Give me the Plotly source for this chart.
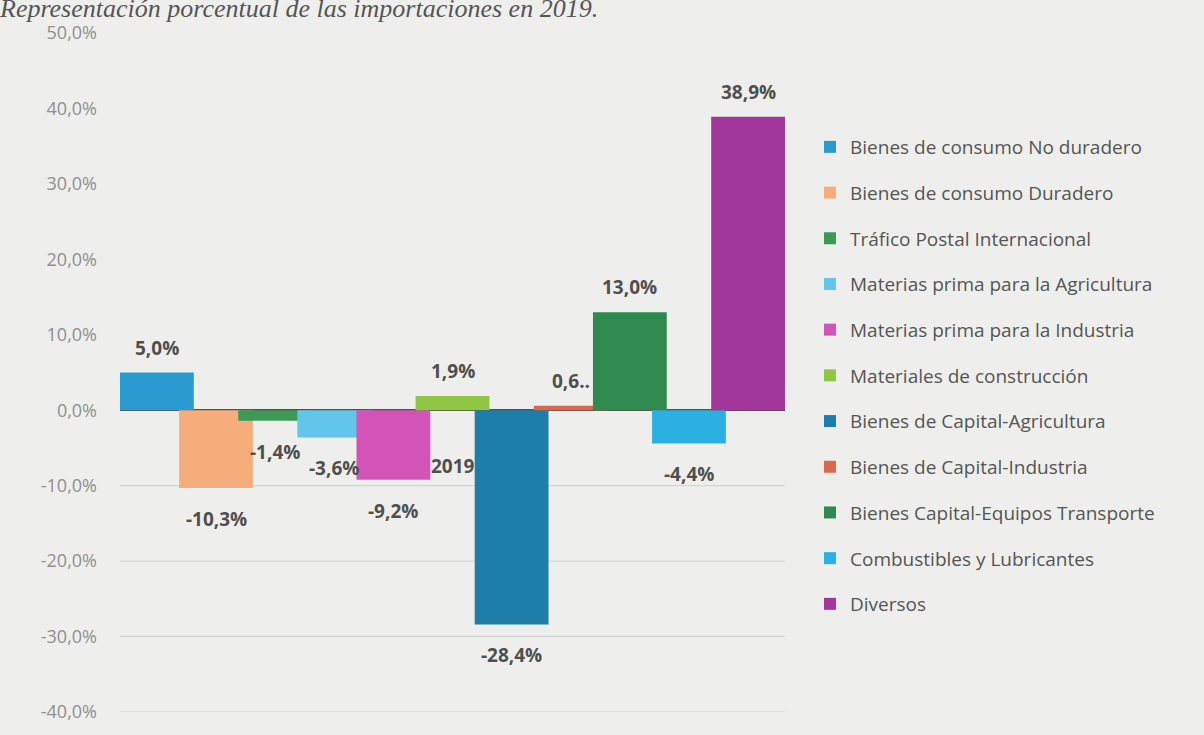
import plotly.graph_objects as go

categories = [
    "Bienes de consumo No duradero",
    "Bienes de consumo Duradero",
    "Tráfico Postal Internacional",
    "Materias prima para la Agricultura",
    "Materias prima para la Industria",
    "Materiales de construcción",
    "Bienes de Capital-Agricultura",
    "Bienes de Capital-Industria",
    "Bienes Capital-Equipos Transporte",
    "Combustibles y Lubricantes",
    "Diversos",
]
values = [5.0, -10.3, -1.4, -3.6, -9.2, 1.9, -28.4, 0.6, 13.0, -4.4, 38.9]
labels = ["5,0%", "-10,3%", "-1,4%", "-3,6%", "-9,2%", "1,9%", "-28,4%", "0,6..", "13,0%", "-4,4%", "38,9%"]
colors = ["#2a9bd0", "#f6ad7c", "#3c9a57", "#62c6ea", "#d354b6", "#8fc744",
          "#1c7ea9", "#d9694c", "#2f8a50", "#2bb0e2", "#a2369c"]
year = "2019"
tick_vals = [50, 40, 30, 20, 10, 0, -10, -20, -30, -40]
tick_text = ["50,0%", "40,0%", "30,0%", "20,0%", "10,0%", "0,0%", "-10,0%", "-20,0%", "-30,0%", "-40,0%"]

W, H = 1204, 735
ML, MR, MT, MB = 120, 419, 33, 17
PW = W - ML - MR

BAR_W = 0.111
STEP = (1 - BAR_W) / (len(values) - 1)
FONT = "Open Sans"
BG = "#eeefec"

fig = go.Figure()
for i, (name, v, c) in enumerate(zip(categories, values, colors)):
    fig.add_trace(go.Bar(
        x=[0], y=[v], name=name, marker=dict(color=c, line=dict(width=0)),
        offset=-0.5 + i * STEP, width=BAR_W, legendgroup=f"g{i}",
        hoverinfo="name+y",
    ))
    fig.add_annotation(
        x=-0.5 + i * STEP + BAR_W / 2, y=v, text=f"<b>{labels[i]}</b>",
        showarrow=False, xref="x", yref="y", yanchor="middle",
        yshift=25 if v >= 0 else -31,
        font=dict(family=FONT, size=19, color="#4f4f4f"),
    )

fig.add_annotation(x=0, y=0, text=f"<b>{year}</b>", showarrow=False, xref="x", yref="y",
                   yanchor="middle", yshift=-56,
                   font=dict(family=FONT, size=19, color="#4f4f4f"))

fig.add_annotation(x=-ML / PW, y=1, xref="paper", yref="paper", xanchor="left", yanchor="middle",
                   yshift=MT - 8, xshift=-3,
                   text="<i>Representación porcentual de las importaciones en 2019.</i>",
                   showarrow=False,
                   font=dict(family="Liberation Serif", size=26, color="#555555"))

# gridlines (only the negative ones are visible in the reference)
for tv in tick_vals:
    if tv < 0:
        fig.add_shape(type="line", xref="paper", yref="y", x0=0, x1=1, y0=tv, y1=tv,
                      line=dict(color="#cfd0ce", width=1), layer="below")

fig.update_layout(
    width=W, height=H,
    barmode="overlay",
    paper_bgcolor=BG, plot_bgcolor=BG,
    margin=dict(l=ML, r=MR, t=MT, b=MB),
    xaxis=dict(range=[-0.5, 0.5], showticklabels=False, showgrid=False, zeroline=False,
               showline=False, fixedrange=True),
    yaxis=dict(range=[-40, 50], tickvals=tick_vals, ticktext=tick_text,
               showgrid=False,
               zeroline=True, zerolinecolor="#5b4d4a", zerolinewidth=2,
               showline=False, ticklabelstandoff=22,
               tickfont=dict(family=FONT, size=18, color="#8f8f8f")),
    legend=dict(xref="container", yref="container", x=810 / W, y=1 - 128 / H,
                xanchor="left", yanchor="top", bgcolor="rgba(0,0,0,0)",
                font=dict(family=FONT, size=19, color="#555555"),
                itemwidth=30, tracegroupgap=18, traceorder="grouped",
                maxheight=600,
                itemclick=False, itemdoubleclick=False),
    showlegend=True,
)

fig.write_html("out.html", config={"displayModeBar": False},
               post_script="document.body.style.margin='0px';")
